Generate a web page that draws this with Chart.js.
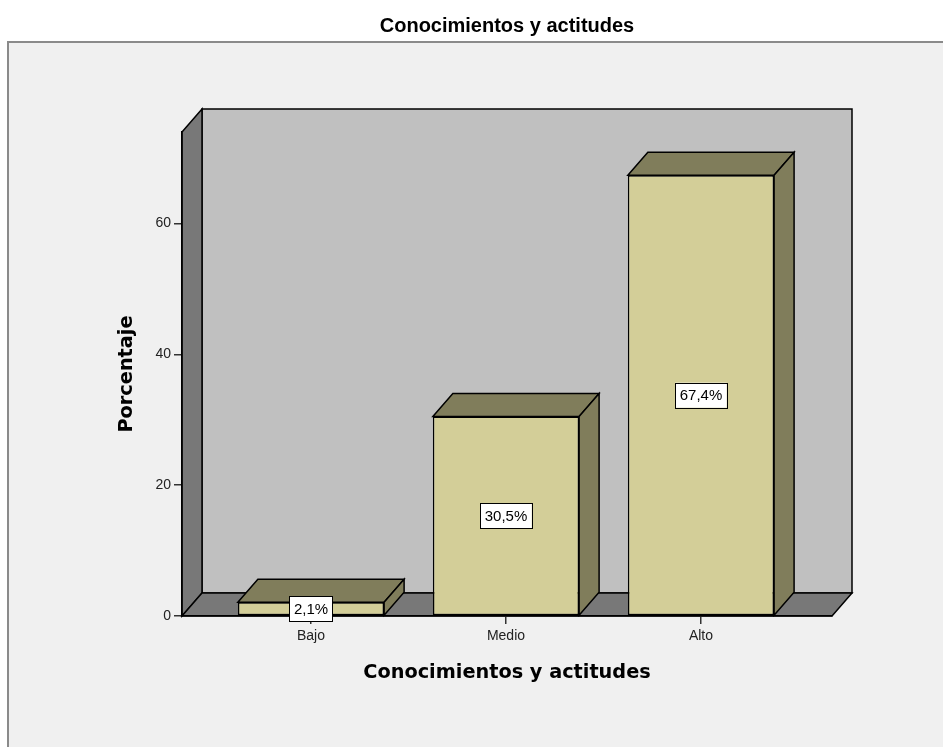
<!DOCTYPE html>
<html>
<head>
<meta charset="utf-8">
<title>Conocimientos y actitudes</title>
<script src="https://cdn.jsdelivr.net/npm/chart.js@4.4.1/dist/chart.umd.min.js"></script>
<style>
  html, body { margin: 0; padding: 0; background: #ffffff; }
  #wrap { width: 943px; height: 747px; overflow: hidden; }
  canvas { display: block; }
</style>
</head>
<body>
<div id="wrap"><canvas id="chart" width="943" height="747"></canvas></div>
<script>
var categories = ["Bajo", "Medio", "Alto"];
var percentages = [2.1, 30.5, 67.4];
var yTicks = [0, 20, 40, 60];

var chartTitle = "Conocimientos y actitudes";
var xTitle = "Conocimientos y actitudes";
var yTitle = "Porcentaje";

// depth of the fake 3D room, in pixels
var depthX = 20;
var depthY = 23;

var frontColor = "#d3ce98";
var sideColor = "#807d5b";

var fmtPercent = function(v) {
    return v.toFixed(1).replace(".", ",") + "%";
};

var poly = function(ctx, pts, fill) {
    ctx.beginPath();
    ctx.moveTo(pts[0][0], pts[0][1]);
    for (var i = 1; i < pts.length; i++) { ctx.lineTo(pts[i][0], pts[i][1]); }
    ctx.closePath();
    ctx.fillStyle = fill;
    ctx.fill();
    ctx.stroke();
};

var roomPlugin = {
    id: "room",
    beforeDraw: function(chart) {
        var ctx = chart.ctx;
        var a = chart.chartArea;
        ctx.save();
        ctx.fillStyle = "#ffffff";
        ctx.fillRect(0, 0, chart.width, chart.height);
        // panel behind the chart
        ctx.fillStyle = "#f0f0f0";
        ctx.fillRect(8, 42, chart.width + 20, chart.height + 20);
        ctx.strokeStyle = "#8a8a8a";
        ctx.lineWidth = 2;
        ctx.strokeRect(8, 42, chart.width + 20, chart.height + 20);

        ctx.strokeStyle = "#000000";
        ctx.lineWidth = 1.5;
        ctx.lineJoin = "miter";
        // back wall
        ctx.fillStyle = "#c0c0c0";
        ctx.fillRect(a.left + depthX, a.top - depthY, a.right - a.left, a.bottom - a.top);
        ctx.strokeRect(a.left + depthX, a.top - depthY, a.right - a.left, a.bottom - a.top);
        // left wall
        poly(ctx, [[a.left, a.top], [a.left + depthX, a.top - depthY],
                   [a.left + depthX, a.bottom - depthY], [a.left, a.bottom]], "#787878");
        // floor
        poly(ctx, [[a.left, a.bottom], [a.left + depthX, a.bottom - depthY],
                   [a.right + depthX, a.bottom - depthY], [a.right, a.bottom]], "#787878");
        ctx.restore();
    },
    afterDatasetsDraw: function(chart) {
        var ctx = chart.ctx;
        var meta = chart.getDatasetMeta(0);
        ctx.save();
        ctx.strokeStyle = "#000000";
        ctx.lineWidth = 1.5;
        meta.data.forEach(function(bar) {
            var p = bar.getProps(["x", "y", "base", "width"], true);
            var x0 = p.x - p.width / 2;
            var x1 = p.x + p.width / 2;
            // top face
            poly(ctx, [[x0, p.y], [x0 + depthX, p.y - depthY],
                       [x1 + depthX, p.y - depthY], [x1, p.y]], sideColor);
            // right face
            poly(ctx, [[x1, p.y], [x1 + depthX, p.y - depthY],
                       [x1 + depthX, p.base - depthY], [x1, p.base]], sideColor);
        });

        // value labels in white boxes
        ctx.font = "15px 'Liberation Sans', Arial, sans-serif";
        ctx.textAlign = "center";
        ctx.textBaseline = "middle";
        meta.data.forEach(function(bar, i) {
            var p = bar.getProps(["x", "y", "base"], true);
            var txt = fmtPercent(percentages[i]);
            var w = ctx.measureText(txt).width + 9;
            var h = 25;
            var cy = (p.y + p.base) / 2;
            ctx.fillStyle = "#ffffff";
            ctx.fillRect(p.x - w / 2, cy - h / 2, w, h);
            ctx.lineWidth = 1;
            ctx.strokeStyle = "#000000";
            ctx.strokeRect(Math.round(p.x - w / 2) + 0.5, Math.round(cy - h / 2) + 0.5, Math.round(w), h);
            ctx.fillStyle = "#000000";
            ctx.fillText(txt, p.x, cy + 1);
        });
        ctx.restore();
    }
};

var tickFont = { family: "'Liberation Sans', Arial, sans-serif", size: 14 };
var titleFont = { family: "'DejaVu Sans', sans-serif", size: 19.3, weight: "bold" };

new Chart(document.getElementById("chart"), {
    type: "bar",
    data: {
        datasets: [{
            data: percentages.map(function(v, i) { return { x: i, y: v }; }),
            backgroundColor: frontColor,
            borderColor: "#000000",
            borderWidth: 1.5,
            borderSkipped: false,
            categoryPercentage: 1,
            barPercentage: 0.75
        }]
    },
    options: {
        responsive: false,
        animation: false,
        layout: { padding: { left: 100, right: 111, top: 0, bottom: 0 } },
        plugins: {
            legend: { display: false },
            tooltip: { enabled: false },
            title: {
                display: true,
                text: chartTitle,
                fullSize: false,
                color: "#000000",
                font: { family: "'Liberation Sans', Arial, sans-serif", size: 20, weight: "bold" },
                padding: { top: 14, bottom: 94 }
            }
        },
        scales: {
            x: {
                type: "linear",
                offset: false,
                min: -0.6615,
                max: 2.672,
                afterFit: function(scale) { scale.height = 131; },
                grid: { offset: false, drawOnChartArea: false, drawTicks: true, tickLength: 8, color: "#333333", lineWidth: 1.5 },
                border: { display: true, color: "#000000", width: 1.5 },
                afterBuildTicks: function(scale) {
                    scale.ticks = categories.map(function(c, i) { return { value: i }; });
                },
                ticks: {
                    autoSkip: false,
                    maxRotation: 0,
                    padding: 4,
                    color: "#222222",
                    font: tickFont,
                    callback: function(v) { return categories[v] !== undefined ? categories[v] : ""; }
                },
                title: {
                    display: true,
                    text: xTitle,
                    color: "#000000",
                    font: titleFont,
                    padding: { top: 4, bottom: 62.4 }
                }
            },
            y: {
                min: 0,
                max: 74,
                afterFit: function(scale) { scale.width = 82; },
                afterBuildTicks: function(scale) {
                    scale.ticks = yTicks.map(function(v) { return { value: v }; });
                },
                grid: { drawOnChartArea: false, drawTicks: true, tickLength: 8, color: "#333333", lineWidth: 1.5 },
                border: { display: true, color: "#000000", width: 1.5 },
                ticks: {
                    padding: 3,
                    color: "#222222",
                    font: tickFont
                },
                title: {
                    display: true,
                    text: yTitle,
                    color: "#000000",
                    font: titleFont,
                    padding: { top: 15.4, bottom: 0 }
                }
            }
        }
    },
    plugins: [roomPlugin]
});
</script>
</body>
</html>
